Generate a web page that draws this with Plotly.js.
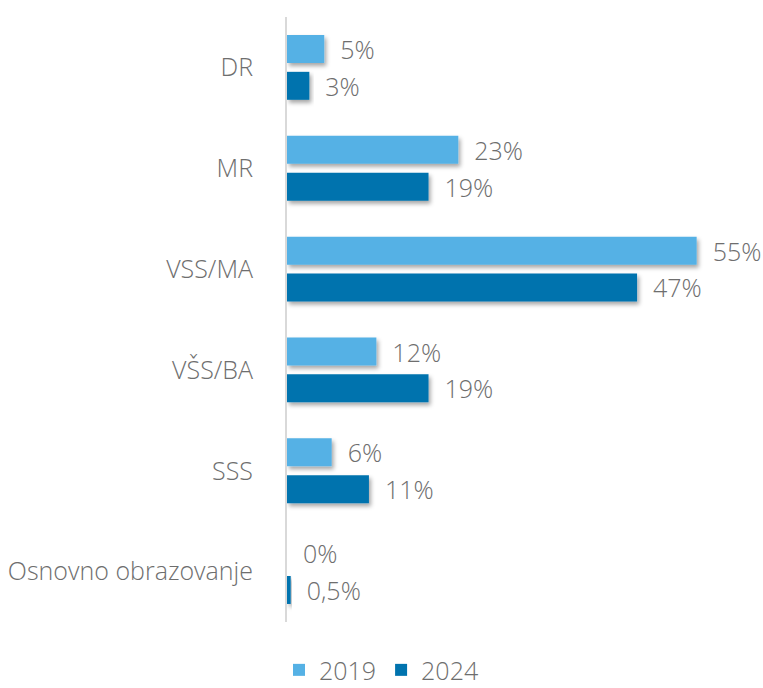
<!DOCTYPE html>
<html>
<head>
<meta charset="utf-8">
<script src="https://cdn.plot.ly/plotly-3.0.1.min.js"></script>
<style>
html,body{margin:0;padding:0;background:#fff;}
#chart{width:763px;height:688px;}
</style>
</head>
<body>
<div id="chart"></div>
<script>
const categories = ["DR", "MR", "VSS/MA", "VŠS/BA", "SSS", "Osnovno obrazovanje"];
const values2019 = [5, 23, 55, 12, 6, 0];
const values2024 = [3, 19, 47, 19, 11, 0.5];
const seriesNames = ["2019", "2024"];
const colors = ["#55B1E5", "#0073AE"];

function fmt(v){ return "\u00A0\u00A0" + String(v).replace(".", ",") + "%"; }

const FONT = "Open Sans, sans-serif";
const GRAY = "#6e6e6e";
const textFont = {family: FONT, size: 25, color: GRAY, weight: 300};

const traces = [values2019, values2024].map((vals, i) => ({
  type: "bar",
  orientation: "h",
  name: seriesNames[i],
  y: categories,
  x: vals,
  marker: {color: colors[i]},
  text: vals.map(fmt),
  textposition: "outside",
  constraintext: "none",
  textfont: textFont,
  cliponaxis: false,
  hoverinfo: "none"
}));

const layout = {
  width: 763,
  height: 688,
  margin: {l: 287, r: 44, t: 17, b: 66},
  barmode: "group",
  bargap: 0.27,
  bargroupgap: 0.24,
  paper_bgcolor: "#fff",
  plot_bgcolor: "#fff",
  font: {family: FONT, color: GRAY, size: 25, weight: 300},
  xaxis: {range: [0, 58], visible: false, fixedrange: true},
  yaxis: {
    autorange: "reversed",
    showline: true,
    linecolor: "#d9d9d9",
    linewidth: 2,
    ticks: "",
    ticklabelstandoff: 27,
    showgrid: false,
    tickfont: {family: FONT, size: 25, color: GRAY, weight: 300}
  },
  showlegend: true,
  legend: {
    orientation: "h",
    x: 0.5,
    xanchor: "center",
    xref: "container",
    y: 0.026,
    yref: "container",
    yanchor: "middle",
    font: {family: FONT, size: 25, color: GRAY, weight: 300},
    itemwidth: 30,
    traceorder: "normal"
  }
};

Plotly.newPlot("chart", traces, layout, {displayModeBar: false, staticPlot: true}).then(gd => {
  const svg = gd.querySelector("svg.main-svg");
  const ns = "http://www.w3.org/2000/svg";
  let defs = svg.querySelector("defs");
  if (!defs) { defs = document.createElementNS(ns, "defs"); svg.insertBefore(defs, svg.firstChild); }
  const f = document.createElementNS(ns, "filter");
  f.setAttribute("id", "barshadow");
  f.setAttribute("x", "-10%"); f.setAttribute("y", "-30%");
  f.setAttribute("width", "130%"); f.setAttribute("height", "180%");
  const ds = document.createElementNS(ns, "feDropShadow");
  ds.setAttribute("dx", "2"); ds.setAttribute("dy", "3");
  ds.setAttribute("stdDeviation", "2");
  ds.setAttribute("flood-color", "#000"); ds.setAttribute("flood-opacity", "0.35");
  f.appendChild(ds);
  defs.appendChild(f);
  gd.querySelectorAll(".bars .point path").forEach(p => p.setAttribute("filter", "url(#barshadow)"));
});
</script>
</body>
</html>
